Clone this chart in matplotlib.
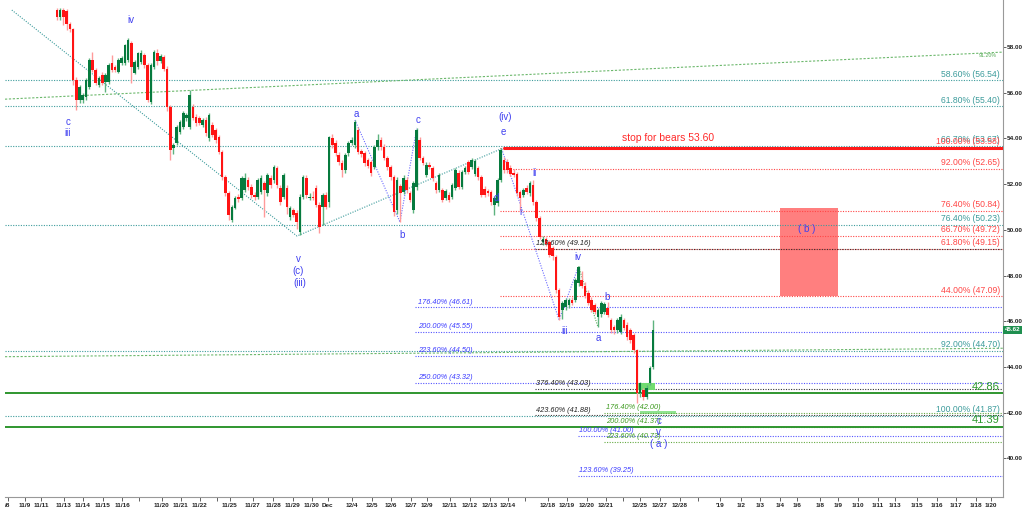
import matplotlib
matplotlib.use("Agg")
import matplotlib.pyplot as plt
from matplotlib.patches import Rectangle

plt.rcParams["font.family"] = ["Liberation Sans", "DejaVu Sans"]

#
# Candles (4-hour bars)
#

opens = [59.62, 59.31, 59.62, 59.60, 59.01, 58.79, 56.56, 55.68, 55.68, 55.81,
         56.25, 57.43, 56.99, 56.34, 56.78, 56.47, 56.47, 57.30, 57.13, 56.91,
         57.30, 57.30, 57.43, 58.18, 56.86, 57.13, 57.35, 57.65, 57.21, 55.60,
         57.13, 57.74, 57.40, 57.55, 57.05, 55.38, 53.60, 53.80, 54.28, 54.50,
         54.90, 54.50, 55.38, 54.94, 54.90, 54.59, 54.81, 54.00, 54.59, 54.37,
         54.06, 53.41, 52.31, 51.61, 50.43, 50.96, 51.44, 51.40, 51.74, 52.18,
         51.88, 51.53, 51.44, 51.66, 52.05, 51.61, 52.27, 52.18, 52.71, 51.83,
         51.44, 51.83, 50.56, 50.87, 50.74, 49.91, 51.44, 52.27, 51.40, 51.45,
         51.83, 51.09, 51.00, 51.53, 51.20, 54.02, 53.80, 53.28, 52.93, 52.62,
         53.36, 53.80, 53.71, 54.37, 53.45, 53.36, 53.06, 52.97, 52.75, 53.63,
         53.93, 53.63, 53.15, 52.75, 52.31, 50.87, 51.90, 51.66, 52.18, 51.61,
         50.87, 51.88, 53.93, 53.15, 52.40, 52.84, 52.71, 52.05, 51.74, 51.74,
         51.40, 51.53, 51.44, 51.83, 52.50, 51.88, 52.53, 52.97, 52.75, 52.45,
         52.71, 52.31, 51.80, 51.70, 51.66, 51.10, 51.17, 52.18, 53.06, 52.97,
         52.71, 52.50, 52.45, 51.66, 51.53, 51.83, 51.61, 51.96, 51.22, 50.52,
         49.47, 49.60, 49.47, 49.20, 48.81, 47.37, 46.49, 46.63, 46.70, 46.93,
         46.93, 47.68, 47.81, 47.55, 47.24, 46.93, 46.70, 46.19, 46.30, 46.40,
         46.58, 46.06, 45.75, 45.62, 45.55, 46.06, 45.84, 45.62, 45.40, 44.74,
         42.86, 43.00, 42.70, 43.30, 44.00]
highs = [59.71, 59.71, 59.70, 59.68, 59.10, 58.85, 56.70, 56.35, 56.00, 56.65,
         57.50, 57.78, 57.10, 56.75, 56.90, 56.85, 57.30, 57.65, 57.20, 57.50,
         57.60, 58.15, 58.40, 58.25, 57.45, 57.80, 57.85, 57.75, 57.30, 57.30,
         57.85, 57.90, 57.70, 57.65, 57.15, 55.45, 53.80, 54.60, 54.80, 55.20,
         55.10, 56.12, 55.50, 55.05, 55.00, 54.90, 54.95, 55.10, 54.70, 54.45,
         54.15, 53.50, 52.40, 51.70, 51.10, 51.50, 51.55, 52.35, 52.50, 52.30,
         52.00, 51.65, 52.25, 52.40, 52.15, 52.50, 52.40, 52.85, 52.80, 51.95,
         52.50, 51.95, 51.05, 50.95, 50.85, 51.55, 52.40, 52.40, 51.60, 51.70,
         51.95, 51.20, 51.60, 51.65, 54.10, 54.20, 53.95, 53.40, 53.05, 53.35,
         53.90, 54.05, 54.81, 54.50, 53.55, 53.45, 53.15, 53.05, 53.70, 54.20,
         54.05, 53.75, 53.25, 52.85, 52.40, 52.30, 52.00, 52.40, 52.30, 51.70,
         52.15, 54.46, 54.05, 53.25, 52.95, 52.95, 52.80, 52.15, 52.50, 51.85,
         51.80, 51.65, 52.05, 52.70, 52.60, 52.60, 52.80, 53.06, 53.15, 53.10,
         52.80, 52.40, 51.90, 51.80, 51.75, 51.50, 52.25, 53.58, 53.20, 53.10,
         52.85, 52.65, 52.55, 51.75, 51.85, 51.95, 52.15, 52.18, 51.30, 50.60,
         49.75, 49.70, 49.55, 49.30, 48.90, 47.45, 46.90, 47.00, 47.00, 47.05,
         47.90, 48.40, 48.20, 47.70, 47.35, 47.05, 46.80, 46.60, 46.90, 46.85,
         46.85, 46.15, 45.85, 46.15, 46.30, 46.15, 45.95, 45.70, 45.50, 44.80,
         43.35, 43.10, 43.20, 44.05, 46.06]
lows = [59.18, 59.20, 58.95, 58.75, 58.65, 56.34, 55.24, 55.55, 55.55, 55.70,
        56.15, 56.90, 56.35, 56.25, 56.35, 56.03, 56.40, 56.90, 56.90, 56.85,
        57.20, 57.20, 57.35, 56.43, 56.80, 57.05, 57.25, 57.10, 55.60, 55.50,
        57.05, 57.20, 57.30, 56.95, 55.20, 53.06, 53.30, 53.70, 54.20, 54.40,
        54.75, 54.40, 54.80, 54.55, 54.60, 54.50, 54.10, 53.90, 54.05, 53.80,
        53.30, 52.20, 51.50, 50.43, 50.35, 50.90, 51.20, 51.30, 51.65, 51.75,
        51.40, 51.30, 51.35, 51.55, 50.56, 51.50, 51.85, 52.05, 51.85, 51.10,
        51.35, 50.70, 50.45, 50.55, 50.05, 49.78, 51.35, 51.40, 51.30, 51.30,
        51.00, 49.85, 50.20, 50.90, 51.00, 53.60, 53.25, 52.85, 52.31, 52.50,
        53.25, 53.70, 53.60, 53.30, 53.20, 52.80, 52.70, 52.35, 52.65, 53.50,
        53.50, 53.05, 52.60, 52.20, 50.60, 50.70, 50.34, 51.55, 51.60, 51.20,
        50.75, 51.75, 53.05, 52.85, 52.30, 52.65, 52.15, 51.60, 51.65, 51.20,
        51.30, 51.20, 51.35, 51.75, 51.80, 51.80, 52.45, 52.45, 52.65, 52.35,
        52.20, 51.45, 51.45, 51.50, 51.10, 50.65, 51.05, 52.10, 52.50, 52.50,
        52.35, 52.30, 51.50, 50.87, 51.45, 51.55, 51.50, 51.10, 50.40, 49.60,
        49.35, 49.30, 48.80, 48.70, 47.25, 46.06, 46.10, 46.50, 46.60, 46.70,
        46.85, 47.55, 47.45, 47.00, 46.70, 46.40, 46.30, 45.75, 46.20, 46.30,
        46.20, 45.50, 45.45, 45.50, 45.45, 45.60, 45.20, 45.05, 44.60, 42.42,
        42.70, 42.55, 42.60, 43.20, 43.90]
closes = [59.31, 59.62, 59.30, 59.01, 58.79, 56.56, 55.68, 56.25, 55.90, 56.56,
          57.43, 56.99, 56.43, 56.65, 56.43, 56.78, 57.21, 56.99, 56.99, 57.43,
          57.52, 58.09, 58.31, 57.13, 57.35, 57.74, 57.74, 57.21, 55.68, 57.21,
          57.78, 57.40, 57.60, 57.05, 55.38, 53.49, 53.71, 54.50, 54.72, 55.11,
          55.03, 55.90, 54.90, 54.68, 54.68, 54.81, 54.24, 55.03, 54.15, 53.93,
          53.41, 52.31, 51.61, 50.65, 51.00, 51.40, 51.35, 52.27, 52.27, 51.88,
          51.53, 51.44, 52.18, 52.27, 51.74, 52.40, 51.96, 52.75, 51.96, 51.22,
          52.40, 51.00, 50.96, 50.65, 50.34, 51.44, 52.31, 51.53, 51.45, 51.40,
          51.09, 50.13, 51.53, 51.00, 54.06, 53.71, 53.36, 52.97, 52.62, 53.28,
          53.80, 53.93, 54.72, 53.41, 53.30, 52.93, 52.80, 52.49, 53.63, 53.93,
          53.63, 53.15, 52.75, 52.31, 50.78, 52.18, 51.60, 52.27, 51.74, 51.30,
          52.05, 54.37, 53.15, 52.93, 52.84, 52.75, 52.27, 51.74, 52.40, 51.30,
          51.70, 51.30, 51.96, 52.62, 51.88, 52.53, 52.70, 52.53, 53.06, 53.00,
          52.31, 51.53, 51.53, 51.60, 51.22, 51.40, 52.18, 53.49, 52.62, 52.62,
          52.45, 52.40, 51.61, 51.40, 51.74, 51.66, 52.05, 51.22, 50.52, 49.69,
          49.60, 49.40, 48.90, 48.85, 47.37, 46.19, 46.80, 46.93, 46.93, 46.80,
          47.81, 48.38, 47.55, 47.10, 46.80, 46.49, 46.40, 46.49, 46.80, 46.75,
          46.28, 45.62, 45.60, 46.06, 46.20, 45.71, 45.31, 45.18, 44.74, 42.86,
          43.30, 42.70, 43.10, 43.96, 45.62]

last_price = 45.62

# x axis (bar index of each date tick)
xtick_pos = [-15.1, -9.9, -4.9, 2.2, 8.0, 14.2, 20.1, 25.3, 32.4, 38.3, 44.1, 49.4,
             53.4, 60.5, 66.7, 72.8, 78.7, 83.6, 91.0, 97.2, 103.1, 109.3, 114.2,
             121.3, 127.5, 133.6, 139.2, 144.4, 151.5, 157.4, 163.6, 169.4, 174.7,
             179.9, 186.1, 192.3, 197.8, 204.6, 211.1, 217.0, 223.1, 228.4, 235.5,
             241.0, 247.2, 253.4, 258.6, 265.4, 271.6, 277.5, 283.6, 288.3]
xtick_labels = ["/8", "11/9", "11/11", "11/13", "11/14", "11/15", "11/16", "", "11/20",
                "11/21", "11/22", "", "11/25", "11/27", "11/28", "11/29", "11/30", "Dec",
                "12/4", "12/5", "12/6", "12/7", "12/9", "12/11", "12/12", "12/13", "12/14",
                "", "12/18", "12/19", "12/20", "12/21", "", "12/25", "12/27", "12/28", "",
                "'19", "1/2", "1/3", "1/4", "1/6", "1/8", "1/9", "1/10", "1/11", "1/13",
                "1/15", "1/16", "1/17", "1/18", "1/20"]

# Fibonacci levels
teal_levels = [56.54, 55.40, 53.67, 50.23, 44.70, 41.87]
teal_labels = ["58.60% (56.54)", "61.80% (55.40)", "66.70% (53.67)", "76.40% (50.23)",
               "92.00% (44.70)", "100.00% (41.87)"]
red_levels = [53.58, 52.65, 50.84, 49.72, 49.15, 47.09]
red_labels = ["100.00% (53.58)", "92.00% (52.65)", "76.40% (50.84)", "66.70% (49.72)",
              "61.80% (49.15)", "44.00% (47.09)"]
blue_levels = [46.61, 45.55, 44.50, 43.32]
blue_labels = ["176.40% (46.61)", "200.00% (45.55)", "223.60% (44.50)", "250.00% (43.32)"]
black_levels = [49.16, 43.03, 41.88]
black_labels = ["123.60% (49.16)", "376.40% (43.03)", "423.60% (41.88)"]
green_levels = [42.00, 41.37, 40.73]
green_labels = ["176.40% (42.00)", "200.00% (41.37)", "223.60% (40.73)"]
blue2_levels = [41.00, 39.25]
blue2_labels = ["100.00% (41.00)", "123.60% (39.25)"]
support_levels = [42.86, 41.39]
stop_level = 53.60

# Elliott wave labels: text, bar, price
wave_text = ["c", "iii", "iv", "v", "(c)", "(iii)", "a", "b", "c", "(iv)", "e", "d",
             "ii", "i", "iv", "iii", "a", "b", "c", "v", "( a )", "( b )"]
wave_bar = [3.4, 3.4, 22.8, 74.4, 74.4, 75.0, 92.3, 106.5, 111.4, 138.3, 137.7, 135.5,
            147.5, 143.2, 160.8, 156.8, 167.0, 169.8, 185.8, 185.8, 185.8, 231.5]
wave_price = [54.72, 54.24, 59.18, 48.72, 48.20, 47.67, 55.07, 49.77, 54.81, 54.94,
              54.28, 51.39, 52.49, 50.78, 48.81, 45.57, 45.26, 47.06, 41.63, 41.15,
              40.63, 50.04]

# trend lines (bar, price pairs)
teal_trend_x = [-13.9, 74.1, 137.7]
teal_trend_y = [59.62, 49.73, 53.58]
green_chan_x = [-16.0, 292.0]
green_chan_hi = [55.72, 57.78]
green_chan_lo = [44.45, 44.82]
abc_x = [92.0, 105.9, 111.1]
abc_y = [54.81, 50.34, 54.46]
impulse_x = [137.3, 155.0, 161.0]
impulse_y = [53.54, 46.06, 48.40]
corr_x = [161.0, 167.0]
corr_y = [48.40, 45.75]

# zones
b_zone = [223.1, 241.0, 47.10, 50.97]
green_box = [179.0, 184.6, 42.99, 43.29]
green_band = [180.0, 191.0, 41.95, 42.08]

#
# Colors
#

up_body, up_wick = "#067a3e", "#5db37f"
down_body, down_wick = "#ff1414", "#ff9a9a"
teal = "#3d9c9c"
red = "#ff4646"
blue = "#3b3bff"
green_txt = "#2e9a2e"
dots = (0, (1, 1.3))

#
# Graph
#

fig = plt.figure(figsize=(10.24, 5.08), dpi=100)
ax = fig.add_axes([5 / 1024, 11 / 508, 998 / 1024, 497 / 508])
x_left, x_right = -16.0, 292.0
ax.set_xlim(x_left, x_right)
ax.set_ylim(38.31, 60.06)

# zones
ax.add_patch(Rectangle((b_zone[0], b_zone[2]), b_zone[1] - b_zone[0], b_zone[3] - b_zone[2],
                       facecolor="#ff7f7f", edgecolor="none", zorder=1))
ax.add_patch(Rectangle((green_box[0], green_box[2]), green_box[1] - green_box[0],
                       green_box[3] - green_box[2], facecolor="#70dc70", edgecolor="none", zorder=4))
ax.add_patch(Rectangle((green_band[0], green_band[2]), green_band[1] - green_band[0],
                       green_band[3] - green_band[2], facecolor="#8fe38f", edgecolor="none", zorder=2))

# full-width levels
ax.hlines(teal_levels, x_left, x_right, colors=teal, linestyles=dots, lw=0.8, zorder=2)
ax.hlines(support_levels, x_left, x_right, colors="#2f962f", lw=1.4, zorder=3)

# partial levels
ax.hlines(red_levels, 136.7, x_right, colors=red, linestyles=dots, lw=0.8, zorder=2)
ax.hlines(blue_levels, 110.5, x_right, colors="#5555ff", linestyles=dots, lw=0.8, zorder=2)
ax.hlines(black_levels, 147.5, x_right, colors="#333333", linestyles=dots, lw=0.8, zorder=2)
ax.hlines(green_levels, 169.0, x_right, colors="#66aa44", linestyles=dots, lw=0.8, zorder=2)
ax.hlines(blue2_levels, 160.8, x_right, colors="#5555ff", linestyles=dots, lw=0.8, zorder=2)
ax.hlines(stop_level, 137.7, x_right, colors="#ff1a1a", lw=2.2, zorder=3)

# trend lines
ax.plot(teal_trend_x, teal_trend_y, color=teal, ls=dots, lw=0.8, zorder=2)
ax.plot(green_chan_x, green_chan_hi, color="#6cb86c", ls=(0, (2, 1.5)), lw=0.8, zorder=2)
ax.plot(green_chan_x, green_chan_lo, color="#6cb86c", ls=(0, (2, 1.5)), lw=0.8, zorder=2)
ax.plot(abc_x, abc_y, color="#6a6aff", ls=dots, lw=0.8, zorder=2)
ax.plot(impulse_x, impulse_y, color="#6a6aff", ls=dots, lw=0.8, zorder=2)
ax.plot(corr_x, corr_y, color="#55aa55", ls=dots, lw=0.8, zorder=2)

# candles
bars = list(range(len(closes)))
is_up = [c >= o for o, c in zip(opens, closes)]
ax.vlines(bars, lows, highs, colors=[up_wick if u else down_wick for u in is_up], lw=1.0, zorder=5)
heights = [max(abs(c - o), 0.03) for o, c in zip(opens, closes)]
bottoms = [min(o, c) for o, c in zip(opens, closes)]
ax.bar(bars, heights, bottom=bottoms, width=0.8,
       color=[up_body if u else down_body for u in is_up], lw=0, zorder=6)

# right-hand level labels
lbl_x = 291.0
for lvl, txt in zip(teal_levels, teal_labels):
    ax.text(lbl_x, lvl + 0.08, txt, color=teal, fontsize=6.2, ha="right", va="bottom", zorder=7)
for lvl, txt in zip(red_levels, red_labels):
    ax.text(lbl_x, lvl + 0.08, txt, color=red, fontsize=6.2, ha="right", va="bottom", zorder=7)
for lvl in support_levels:
    ax.text(lbl_x, lvl + 0.05, f"{lvl:.2f}", color=green_txt, fontsize=8, ha="right", va="bottom", zorder=7)
ax.text(lbl_x - 1, green_chan_hi[1] - 0.05, "91.20%", color="#55aa55", fontsize=3.8,
        ha="right", va="top", zorder=7)

# left-anchored fib labels
for lvl, txt in zip(blue_levels, blue_labels):
    ax.text(111.4, lvl + 0.08, txt, color=blue, fontsize=5.3, style="italic", va="bottom", zorder=7)
for lvl, txt in zip(black_levels, black_labels):
    ax.text(148.0, lvl + 0.08, txt, color="#222222", fontsize=5.3, style="italic", va="bottom", zorder=7)
for lvl, txt in zip(green_levels, green_labels):
    ax.text(169.5, lvl + 0.08, txt, color="#3c9a1e", fontsize=5.3, style="italic", va="bottom", zorder=7)
for lvl, txt in zip(blue2_levels, blue2_labels):
    ax.text(161.3, lvl + 0.08, txt, color=blue, fontsize=5.3, style="italic", va="bottom", zorder=7)

ax.text(188.6, stop_level + 0.2, "stop for bears 53.60", color="#ff2a2a", fontsize=7.5,
        ha="center", va="bottom", zorder=7)

for txt, bx, py in zip(wave_text, wave_bar, wave_price):
    ax.text(bx, py, txt, color="#4040f0", fontsize=7, ha="center", va="center", zorder=8)

# price tag
ax.text(x_right + 0.6, last_price, f"{last_price:.2f}", color="white", fontsize=4.5,
        fontweight="bold", ha="left", va="center", clip_on=False,
        bbox=dict(boxstyle="square,pad=0.25", facecolor="#1f8f4f", edgecolor="none"))

# axes styling
for side in ["top", "left"]:
    ax.spines[side].set_visible(False)
ax.spines["right"].set_color("#999999")
ax.spines["bottom"].set_color("#999999")
ax.yaxis.tick_right()
ax.set_yticks([40, 42, 44, 46, 48, 50, 52, 54, 56, 58])
ax.set_yticklabels([f"{v:.2f}" for v in [40, 42, 44, 46, 48, 50, 52, 54, 56, 58]])
ax.tick_params(axis="y", labelsize=4.6, length=2, width=0.5, pad=1, colors="#222222")
ax.set_xticks(xtick_pos)
ax.set_xticklabels(xtick_labels)
ax.tick_params(axis="x", labelsize=4.6, length=3, width=0.5, pad=1, colors="#222222")
for lab in ax.get_xticklabels() + ax.get_yticklabels():
    lab.set_fontweight("bold")

fig.savefig("out.png", dpi=100)
